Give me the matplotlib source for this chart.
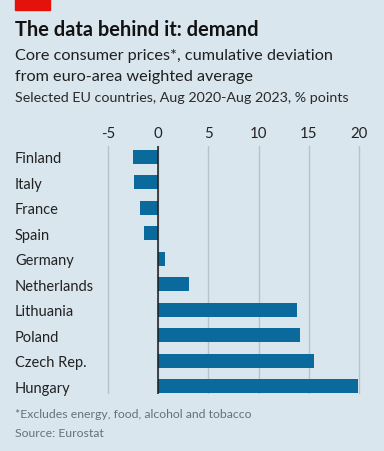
import matplotlib
matplotlib.use("Agg")
import matplotlib.pyplot as plt
from matplotlib.patches import Rectangle

# Data
countries = ["Finland", "Italy", "France", "Spain", "Germany", "Netherlands",
             "Lithuania", "Poland", "Czech Rep.", "Hungary"]
values = [-2.45, -2.4, -1.8, -1.4, 0.65, 3.05, 13.8, 14.1, 15.5, 19.9]
xticks = [-5, 0, 5, 10, 15, 20]

BG = "#d9e6ee"
BAR = "#0b6a9c"
W, H = 384, 452

plt.rcParams['font.family'] = ['Lato', 'DejaVu Sans']

fig = plt.figure(figsize=(W / 100, H / 100), dpi=100, facecolor=BG)

def px(x, y):
    return x / W, 1 - y / H

# red tag at top
fig.patches.append(Rectangle(px(15, 11), 35 / W, 11 / H, transform=fig.transFigure,
                             color="#e3120b", zorder=5))

fig.text(*px(15, 36), "The data behind it: demand", fontsize=14.4, fontweight="bold",
         color="#121212", va="baseline")
fig.text(*px(15, 60), "Core consumer prices*, cumulative deviation", fontsize=11.7,
         color="#1f1f1f", va="baseline")
fig.text(*px(15, 81), "from euro-area weighted average", fontsize=11.7,
         color="#1f1f1f", va="baseline")
fig.text(*px(15, 102), "Selected EU countries, Aug 2020-Aug 2023, % points", fontsize=10.3,
         color="#2a2a2a", va="baseline")

# axes placement
x0_px, unit_px = 158, 10.05
xmin, xmax = -5.5, 20.5
left_px = x0_px + xmin * unit_px
right_px = x0_px + xmax * unit_px
top_px, bot_px = 146.7, 395
ax = fig.add_axes([left_px / W, 1 - bot_px / H, (right_px - left_px) / W, (bot_px - top_px) / H])
ax.set_facecolor(BG)

ypos = list(range(len(countries)))
ax.barh(ypos, values, height=0.55, color=BAR, zorder=3)
ax.axvline(0, color="#1a1a1a", lw=1.1, zorder=4)

ax.set_xlim(xmin, xmax)
ax.set_ylim(9.3, -0.43)
ax.set_xticks(xticks)
ax.set_xticklabels([str(t) for t in xticks])
ax.xaxis.tick_top()
ax.tick_params(axis="x", length=0, pad=4, labelsize=10.8, labelcolor="#222222")
ax.grid(axis="x", color="#b5c3cc", lw=1, zorder=0)

ax.set_yticks(ypos)
ax.set_yticklabels(countries)
ax.tick_params(axis="y", length=0, pad=(left_px - 15) / 1.389, labelsize=10.5,
               labelcolor="#222222")
for lab in ax.get_yticklabels():
    lab.set_ha("left")

for s in ax.spines.values():
    s.set_visible(False)

fig.text(*px(15, 418), "*Excludes energy, food, alcohol and tobacco", fontsize=8.8,
         color="#66727a", va="baseline")
fig.text(*px(15, 437), "Source: Eurostat", fontsize=8.8, color="#66727a", va="baseline")

fig.savefig("out.png", dpi=100, facecolor=BG)
